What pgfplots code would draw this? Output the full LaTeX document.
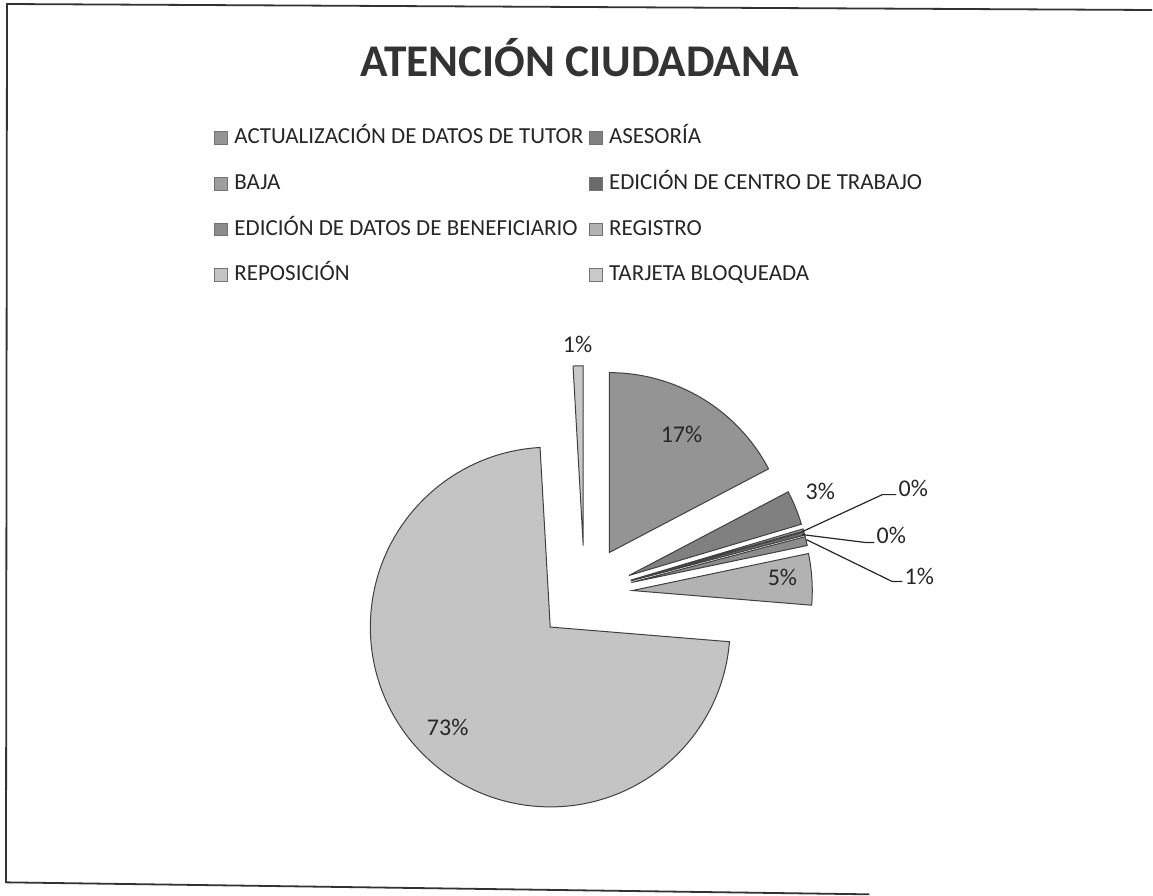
\documentclass[border=0pt]{standalone}
\usepackage{fontspec}
\setmainfont{Carlito}
\usepackage{pgfplots}
\usepackage{pgfplotstable}
\pgfplotsset{compat=1.18}

\definecolor{c0}{gray}{0.58}
\definecolor{c1}{gray}{0.50}
\definecolor{c2}{gray}{0.62}
\definecolor{c3}{gray}{0.42}
\definecolor{c4}{gray}{0.55}
\definecolor{c5}{gray}{0.70}
\definecolor{c6}{gray}{0.77}
\definecolor{c7}{gray}{0.79}

% percentage of each category (clockwise from 12 o'clock)
\pgfplotstableread{
cat val
ACT 17.3
ASE 3.1
BAJ 0.2
ECT 0.3
EDB 0.8
REG 4.6
REP 72.8
TAR 0.9
}\piedata

\xdef\cum{0}
\pgfplotsforeachungrouped \i in {0,...,7}{%
  \pgfplotstablegetelem{\i}{val}\of\piedata
  \pgfmathsetmacro\sa{90-3.6*\cum}%
  \pgfmathsetmacro\newcum{\cum+\pgfplotsretval}%
  \pgfmathsetmacro\ea{90-3.6*\newcum}%
  \pgfmathsetmacro\ma{(\sa+\ea)/2}%
  \expandafter\xdef\csname sa\i\endcsname{\sa}%
  \expandafter\xdef\csname ea\i\endcsname{\ea}%
  \expandafter\xdef\csname ma\i\endcsname{\ma}%
  \xdef\cum{\newcum}%
}

\begin{document}
\begin{tikzpicture}
\begin{axis}[
  scale only axis, width=576.5pt, height=448pt,
  xmin=0, xmax=1153, ymin=0, ymax=896, y dir=reverse,
  hide axis, clip=false,
  legend columns=2, legend cell align=left,
  legend image code/.code={\filldraw[#1, draw=black!55, line width=0.3pt] (0pt,-3.2pt) rectangle (6.4pt,3.2pt);},
  legend style={at={(axis cs:214,125)}, anchor=north west, draw=none, fill=none,
    inner sep=0pt, row sep=10.5pt,
    font=\fontsize{11.5}{13}\selectfont, text=black!85,
    nodes={inner sep=1.2pt, text height=8pt, text depth=2pt},
    /tikz/every odd column/.append style={column sep=2.2pt},
    /tikz/every even column/.append style={column sep=1.6pt}},
]
\path (axis cs:0,0) rectangle (axis cs:1153,896);
% frame
\draw[black!80, line width=0.9pt] (axis cs:1153,10) -- (axis cs:7,4) -- (axis cs:6,883) -- (axis cs:870,895);

\addlegendimage{fill=c0}\addlegendentry{ACTUALIZACIÓN DE DATOS DE TUTOR}
\addlegendimage{fill=c1}\addlegendentry{ASESORÍA}
\addlegendimage{fill=c2}\addlegendentry{BAJA}
\addlegendimage{fill=c3}\addlegendentry{EDICIÓN DE CENTRO DE TRABAJO}
\addlegendimage{fill=c4}\addlegendentry{EDICIÓN DE DATOS DE BENEFICIARIO}
\addlegendimage{fill=c5}\addlegendentry{REGISTRO}
\addlegendimage{fill=c6}\addlegendentry{REPOSICIÓN}
\addlegendimage{fill=c7}\addlegendentry{TARJETA BLOQUEADA}

% exploded pie slices
\pgfplotsinvokeforeach{0,...,7}{
  \filldraw[fill=c#1, draw=black!75, line width=0.5pt]
    (axis cs:585,594) ++(\csname ma#1\endcsname:24pt) -- ++(\csname sa#1\endcsname:90pt)
    arc[start angle=\csname sa#1\endcsname, end angle=\csname ea#1\endcsname, radius=90pt] -- cycle;
}

% title
\node[text=black!80, font=\fontsize{22.7}{27}\selectfont\bfseries] at (axis cs:580,58) {ATENCIÓN CIUDADANA};

% data labels
\begin{scope}[every node/.style={font=\fontsize{12}{14}\selectfont, text=black!85, inner sep=0pt}]
\node at (axis cs:682,435) {17\%};
\node at (axis cs:821,492) {3\%};
\node at (axis cs:783,578) {5\%};
\node at (axis cs:448,728) {73\%};
\node at (axis cs:578,345) {1\%};
\draw[black!85, line width=0.6pt] (axis cs:803,532) -- (axis cs:883,495) -- (axis cs:897,495);
\node[anchor=west] at (axis cs:899,489) {0\%};
\draw[black!85, line width=0.6pt] (axis cs:803,535) -- (axis cs:867,543) -- (axis cs:875,543);
\node[anchor=west] at (axis cs:877,536) {0\%};
\draw[black!85, line width=0.6pt] (axis cs:807,540) -- (axis cs:893,582) -- (axis cs:903,582);
\node[anchor=west] at (axis cs:905,577) {1\%};
\end{scope}
\end{axis}
\end{tikzpicture}
\end{document}
